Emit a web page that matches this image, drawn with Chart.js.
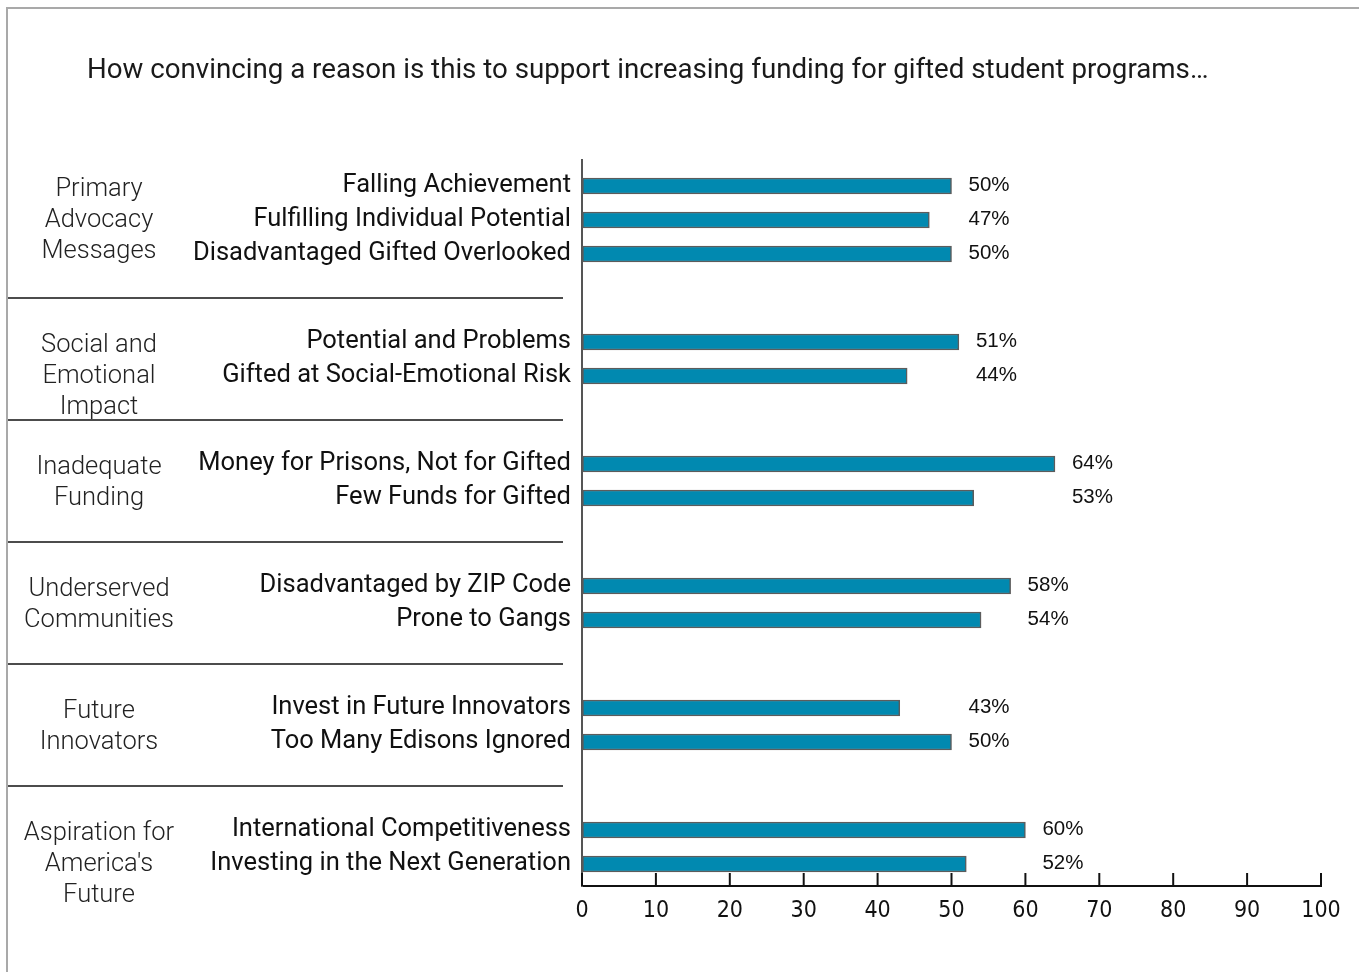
<!DOCTYPE html>
<html>
<head>
<meta charset="utf-8">
<script src="https://cdn.jsdelivr.net/npm/chart.js@4.4.1/dist/chart.umd.min.js"></script>
<style>
  html, body { margin: 0; padding: 0; background: #fff; }
  canvas { display: block; }
</style>
</head>
<body>
<canvas id="grafico" width="1359" height="972"></canvas>
<script>
// Datos del gráfico
const titulo = 'How convincing a reason is this to support increasing funding for gifted student programs…';
const grupos = [
    ['Primary', 'Advocacy', 'Messages'],
    ['Social and', 'Emotional', 'Impact'],
    ['Inadequate', 'Funding'],
    ['Underserved', 'Communities'],
    ['Future', 'Innovators'],
    ['Aspiration for', "America's", 'Future']
];
const tamanoGrupo = [3, 2, 2, 2, 2, 2];
const mensajes = [
    'Falling Achievement',
    'Fulfilling Individual Potential',
    'Disadvantaged Gifted Overlooked',
    'Potential and Problems',
    'Gifted at Social-Emotional Risk',
    'Money for Prisons, Not for Gifted',
    'Few Funds for Gifted',
    'Disadvantaged by ZIP Code',
    'Prone to Gangs',
    'Invest in Future Innovators',
    'Too Many Edisons Ignored',
    'International Competitiveness',
    'Investing in the Next Generation'
];
const valores = [50, 47, 50, 51, 44, 64, 53, 58, 54, 43, 50, 60, 52];
const ticksX = [0, 10, 20, 30, 40, 50, 60, 70, 80, 90, 100];

// Posición de cada fila en el eje Y (con hueco entre grupos)
const SALTO = 2.588;
const posiciones = [];
let p = 0;
tamanoGrupo.forEach(n => {
    for (let i = 0; i < n; i++) {
        posiciones.push(p);
        p += 1;
    }
    p += SALTO - 1;
});

// Plugin para título, marco, separadores, grupos y etiquetas
const decoracion = {
    id: 'decoracion',
    afterDraw(chart) {
        const ctx = chart.ctx;
        const x = chart.scales.x;
        const y = chart.scales.y;
        ctx.save();

        // marco gris
        ctx.strokeStyle = '#a9a9a9';
        ctx.lineWidth = 2;
        ctx.beginPath();
        ctx.moveTo(7, chart.height);
        ctx.lineTo(7, 8);
        ctx.lineTo(chart.width, 8);
        ctx.stroke();

        // título
        ctx.fillStyle = '#1a1a1a';
        ctx.font = '27.7px Roboto';
        ctx.textAlign = 'left';
        ctx.textBaseline = 'middle';
        ctx.fillText(titulo, 87, 71);

        // separadores, nombres de grupo y porcentajes
        let idx = 0;
        tamanoGrupo.forEach((n, g) => {
            const primero = idx;
            const ultimo = idx + n - 1;
            idx += n;
            if (g < tamanoGrupo.length - 1) {
                const ym = y.getPixelForValue((posiciones[ultimo] + posiciones[ultimo + 1]) / 2);
                ctx.strokeStyle = '#111';
                ctx.lineWidth = 1.5;
                ctx.beginPath();
                ctx.moveTo(8, ym);
                ctx.lineTo(563, ym);
                ctx.stroke();
            }
            ctx.fillStyle = '#222';
            ctx.font = '300 25.5px Roboto';
            ctx.textAlign = 'center';
            const y0 = y.getPixelForValue(posiciones[primero]) + 4;
            grupos[g].forEach((linea, k) => ctx.fillText(linea, 99, y0 + k * 31));

            const maximo = Math.max(...valores.slice(primero, ultimo + 1));
            const xl = x.getPixelForValue(maximo) + 17;
            ctx.fillStyle = '#111';
            ctx.font = '20.5px "Liberation Sans", Arial';
            ctx.textAlign = 'left';
            for (let i = primero; i <= ultimo; i++) {
                ctx.fillText(valores[i] + '%', xl, y.getPixelForValue(posiciones[i]) - 1);
            }
        });

        // marcas del eje X hacia arriba
        ctx.strokeStyle = '#111';
        ctx.lineWidth = 2;
        ticksX.forEach(t => {
            const px = x.getPixelForValue(t);
            ctx.beginPath();
            ctx.moveTo(px, x.top - 13);
            ctx.lineTo(px, x.top);
            ctx.stroke();
        });
        ctx.restore();
    }
};

const ctx = document.getElementById('grafico').getContext('2d');
new Chart(ctx, {
    type: 'bar',
    data: {
        datasets: [{
            data: valores.map((v, i) => ({ x: v, y: posiciones[i] })),
            backgroundColor: '#0189B0',
            borderColor: '#5c5c5c',
            borderWidth: 1.5,
            borderSkipped: false,
            barThickness: 16
        }]
    },
    options: {
        indexAxis: 'y',
        responsive: false,
        animation: false,
        layout: { padding: { top: 160, right: 38, bottom: 46, left: 0 } },
        plugins: {
            legend: { display: false },
            tooltip: { enabled: false }
        },
        scales: {
            x: {
                type: 'linear',
                min: 0,
                max: 100,
                afterBuildTicks: s => { s.ticks = ticksX.map(v => ({ value: v })); },
                afterFit: s => { s.height = 40; },
                grid: { drawOnChartArea: false, drawTicks: false },
                border: { color: '#111', width: 2 },
                ticks: {
                    padding: 11,
                    color: '#111',
                    font: { family: '"Liberation Sans Narrow", "DejaVu Sans Condensed", sans-serif', size: 23 }
                }
            },
            y: {
                type: 'linear',
                reverse: true,
                offset: false,
                min: -0.765,
                max: 20.588,
                afterBuildTicks: s => { s.ticks = posiciones.map(v => ({ value: v })); },
                afterFit: s => { s.width = 582; },
                grid: { display: false, drawTicks: false },
                border: { color: '#555', width: 2 },
                ticks: {
                    padding: 11,
                    color: '#111',
                    font: { family: 'Roboto', size: 25.5 },
                    callback: (v, i) => mensajes[i]
                }
            }
        }
    },
    plugins: [decoracion]
});
</script>
</body>
</html>
